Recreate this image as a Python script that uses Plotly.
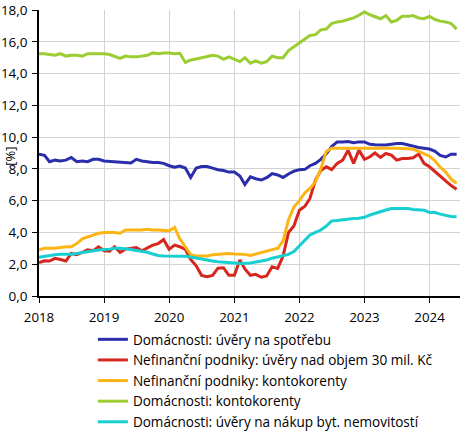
import plotly.graph_objects as go
import pandas as pd

dates = pd.date_range("2018-01-01", periods=78, freq="MS")

names = [
    "Domácnosti: úvěry na spotřebu",
    "Nefinanční podniky: úvěry nad objem 30 mil. Kč",
    "Nefinanční podniky: kontokorenty",
    "Domácnosti: kontokorenty",
    "Domácnosti: úvěry na nákup byt. nemovitostí",
]

hh_consumer = [
    8.93, 8.85, 8.45, 8.55, 8.5, 8.55, 8.72, 8.45, 8.5, 8.45, 8.6, 8.6,
    8.5, 8.47, 8.43, 8.42, 8.4, 8.37, 8.6, 8.5, 8.45, 8.4, 8.4, 8.35,
    8.2, 8.1, 8.18, 8.05, 7.46, 8.05, 8.15, 8.15, 8.05, 7.95, 7.9, 7.8,
    7.8, 7.55, 7.02, 7.5, 7.38, 7.3, 7.45, 7.7, 7.62, 7.46, 7.68, 7.85,
    7.95, 7.97, 8.2, 8.35, 8.6, 8.95, 9.4, 9.7, 9.7, 9.72, 9.65, 9.7,
    9.7, 9.55, 9.52, 9.5, 9.5, 9.55, 9.6, 9.6, 9.5, 9.45, 9.35, 9.3,
    9.25, 9.1, 8.85, 8.75, 8.92, 8.92,
]

nfc_large = [
    2.1, 2.22, 2.2, 2.37, 2.3, 2.2, 2.68, 2.6, 2.75, 2.9, 2.85, 3.1,
    2.85, 2.82, 3.1, 2.75, 2.95, 3.0, 3.05, 2.85, 3.05, 3.2, 3.3, 3.55,
    2.94, 3.2, 3.1, 2.94, 2.3, 1.9, 1.3, 1.22, 1.3, 1.75, 1.78, 1.3,
    1.3, 2.26, 1.7, 1.3, 1.36, 1.18, 1.26, 1.84, 1.74, 2.5, 4.0, 4.4,
    5.4, 5.65, 6.14, 7.3, 7.9, 8.13, 7.95, 8.35, 8.55, 9.18, 8.35, 9.18,
    8.6, 8.76, 9.0, 8.72, 8.97, 8.87, 8.55, 8.65, 8.65, 8.7, 8.93, 8.35,
    8.13, 7.82, 7.55, 7.2, 6.95, 6.72,
]

nfc_overdraft = [
    2.9, 3.0, 3.0, 3.0, 3.05, 3.1, 3.1, 3.3, 3.6, 3.7, 3.85, 3.95,
    4.0, 4.0, 4.0, 3.95, 4.15, 4.15, 4.15, 4.15, 4.2, 4.15, 4.15, 4.12,
    4.1, 4.32, 3.6, 3.1, 2.6, 2.52, 2.52, 2.52, 2.6, 2.62, 2.62, 2.68,
    2.65, 2.64, 2.62, 2.55, 2.65, 2.72, 2.85, 2.92, 3.0, 3.45, 4.8, 5.6,
    6.0, 6.5, 6.77, 7.2, 8.0, 9.1, 9.3, 9.3, 9.3, 9.3, 9.3, 9.3,
    9.33, 9.32, 9.32, 9.33, 9.3, 9.3, 9.3, 9.28, 9.25, 9.25, 9.1, 8.95,
    8.8, 8.5, 8.1, 7.8, 7.35, 7.1,
]

hh_overdraft = [
    15.25, 15.25, 15.2, 15.15, 15.25, 15.1, 15.15, 15.15, 15.1, 15.25, 15.25, 15.25,
    15.25, 15.2, 15.1, 14.95, 15.1, 15.05, 15.05, 15.1, 15.15, 15.3, 15.25, 15.3,
    15.3, 15.25, 15.28, 14.7, 14.85, 14.92, 15.0, 15.1, 15.15, 15.1, 14.9, 15.05,
    14.9, 14.75, 15.0, 14.65, 14.8, 14.65, 14.75, 15.1, 15.0, 15.0, 15.45, 15.7,
    15.95, 16.2, 16.4, 16.45, 16.75, 16.8, 17.15, 17.25, 17.3, 17.4, 17.5, 17.67,
    17.88, 17.7, 17.6, 17.45, 17.65, 17.25, 17.35, 17.6, 17.6, 17.65, 17.5, 17.45,
    17.6, 17.4, 17.3, 17.25, 17.15, 16.8,
]

hh_housing = [
    2.43, 2.5, 2.55, 2.6, 2.62, 2.62, 2.62, 2.68, 2.72, 2.79, 2.85, 2.9,
    2.92, 2.95, 3.0, 3.0, 2.98, 2.92, 2.87, 2.82, 2.75, 2.64, 2.55, 2.52,
    2.52, 2.52, 2.52, 2.5, 2.45, 2.38, 2.3, 2.25, 2.2, 2.16, 2.12, 2.1,
    2.08, 2.05, 2.05, 2.08, 2.14, 2.2, 2.26, 2.38, 2.45, 2.52, 2.62, 2.8,
    3.15, 3.55, 3.84, 4.0, 4.15, 4.4, 4.72, 4.75, 4.8, 4.85, 4.88, 4.9,
    4.95, 5.1, 5.2, 5.35, 5.41, 5.5, 5.51, 5.51, 5.51, 5.45, 5.41, 5.4,
    5.26, 5.25, 5.15, 5.05, 5.0, 4.99,
]

series = [hh_consumer, nfc_large, nfc_overdraft, hh_overdraft, hh_housing]
colors = ["#2B2EAB", "#D7261E", "#FDB515", "#9BCD33", "#17CFD0"]

year_ticks = [f"{y}-01-01" for y in range(2018, 2025)]
year_labels = [str(y) for y in range(2018, 2025)]

FONT = "Segoe UI, Open Sans, sans-serif"

fig = go.Figure()
for i, (name, vals, col) in enumerate(zip(names, series, colors)):
    fig.add_trace(go.Scatter(
        x=dates, y=vals, name=name, mode="lines",
        line=dict(color=col, width=3),
        legendgroup=f"g{i}",
    ))

fig.update_layout(
    width=464, height=431,
    margin=dict(l=39, r=4, t=10, b=135, autoexpand=False),
    paper_bgcolor="white", plot_bgcolor="white",
    separators=", ",
    font=dict(family=FONT, size=13, color="#000000"),
    showlegend=True,
    legend=dict(
        x=0.128, xanchor="left", y=-0.098, yanchor="top",
        orientation="v", traceorder="grouped", tracegroupgap=0,
        font=dict(family=FONT, size=13.55),
        bgcolor="rgba(0,0,0,0)",
    ),
    xaxis=dict(
        range=["2018-01-01", "2024-06-20"], automargin=False,
        tickmode="array", tickvals=year_ticks, ticktext=year_labels,
        showgrid=True, gridcolor="#D3D3D3", gridwidth=1,
        showline=True, linecolor="black", linewidth=1.5,
        ticks="outside", ticklen=5, tickcolor="black",
        tickfont=dict(size=13.3), ticklabelstandoff=3, zeroline=False,
    ),
    yaxis=dict(
        range=[0, 18], dtick=2, tickformat=".1f", automargin=False,
        showgrid=True, gridcolor="#D3D3D3", gridwidth=1,
        showline=True, linecolor="black", linewidth=1.5,
        ticks="outside", ticklen=5, tickcolor="black",
        tickfont=dict(size=13.5), ticklabelstandoff=2, zeroline=False,
    ),
    annotations=[dict(
        text="[%]", textangle=-90, xref="paper", yref="paper",
        x=-0.069, y=0.49, xanchor="center", yanchor="middle",
        showarrow=False, font=dict(family=FONT, size=13),
    )],
)

fig.write_html(
    "out.html",
    config={"displayModeBar": False},
    post_script="document.body.style.margin='0';document.body.style.padding='0';",
)
